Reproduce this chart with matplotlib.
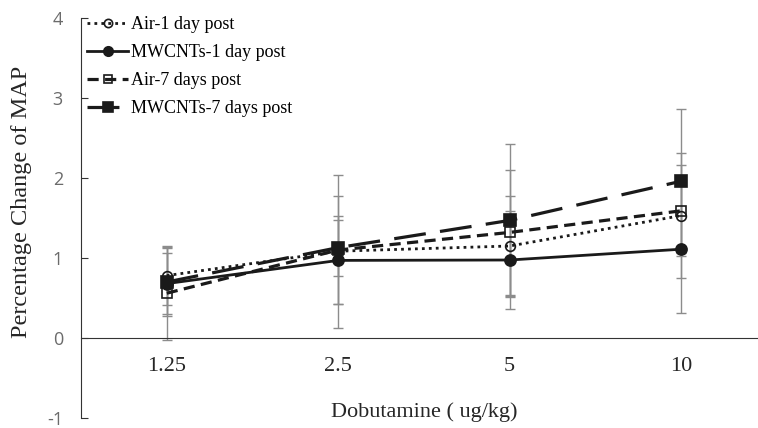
import numpy as np
import matplotlib
matplotlib.use("Agg")
import matplotlib.pyplot as plt

plt.rcParams["axes.unicode_minus"] = False

doses = ["1.25", "2.5", "5", "10"]

air_1d = [0.78, 1.085, 1.15, 1.53]
air_1d_err = [0.37, 0.955, 0.62, 0.78]
mw_1d = [0.68, 0.97, 0.975, 1.11]
mw_1d_err = [0.38, 0.55, 0.61, 0.80]
air_7d = [0.56, 1.10, 1.32, 1.59]
air_7d_err = [0.58, 0.68, 0.78, 0.57]
mw_7d = [0.70, 1.13, 1.47, 1.96]
mw_7d_err = [0.42, 0.35, 0.96, 0.90]

serif = "Liberation Serif"

fig = plt.figure(figsize=(7.58, 4.28), dpi=100)
ax = fig.add_axes([81/758, 10/428, 686/758, 400/428])

x = np.arange(len(doses))

series = [
    ("Air-1 day post", air_1d, air_1d_err, dict(ls=(0, (1, 1.5)), marker="o", mfc="none", ms=7, lw=2)),
    ("MWCNTs-1 day post", mw_1d, mw_1d_err, dict(ls="-", marker="o", mfc="#1a1a1a", ms=8, lw=2)),
    ("Air-7 days post", air_7d, air_7d_err, dict(ls=(0, (3.5, 2)), marker="s", mfc="none", ms=7, lw=2.3)),
    ("MWCNTs-7 days post", mw_7d, mw_7d_err, dict(ls=(0, (10, 4.5)), marker="s", mfc="#1a1a1a", ms=8, lw=2.3)),
]

# barras de error grises, debajo de las lineas
for name, vals, err, st in series:
    ax.errorbar(x, vals, yerr=err, fmt="none", ecolor="#8c8c8c",
                elinewidth=1, capsize=3.5, capthick=1, zorder=2)

for name, vals, err, st in series:
    ax.plot(x, vals, color="#1a1a1a", mec="#1a1a1a", mew=1.2,
            label=name, zorder=3, **st)

ax.set_xlim(-0.5, 3.5)
ax.set_ylim(-1, 4)
ax.set_yticks([-1, 0, 1, 2, 3, 4])

ax.spines["top"].set_visible(False)
ax.spines["right"].set_visible(False)
ax.spines["bottom"].set_position(("data", 0))
ax.spines["bottom"].set_color("#333333")
ax.spines["left"].set_color("#333333")

ax.set_xticks(x)
ax.set_xticklabels(doses, fontfamily=serif, fontsize=16, color="#262626")
ax.tick_params(axis="x", length=0, pad=14)
ax.tick_params(axis="y", direction="in", length=5, pad=13,
               labelsize=13, labelcolor="#6b6b6b", color="#333333")
for t in ax.get_yticklabels():
    t.set_fontfamily("Open Sans")

ax.set_xlabel("Dobutamine ( ug/kg)", fontfamily=serif, fontsize=16, color="#262626")
ax.xaxis.set_label_coords(0.5, 0.04)
ax.set_ylabel("Percentage Change of MAP", fontfamily=serif, fontsize=17.5, color="#262626")
ax.yaxis.set_label_coords(-0.072, 0.54)

ax.legend(loc="upper left", bbox_to_anchor=(-0.01, 1.037), frameon=False,
          prop={"family": serif, "size": 13}, handlelength=2.3, markerscale=0.85,
          handletextpad=0.15, labelspacing=0.62, borderaxespad=0.3)

fig.savefig("out.png", dpi=100)
